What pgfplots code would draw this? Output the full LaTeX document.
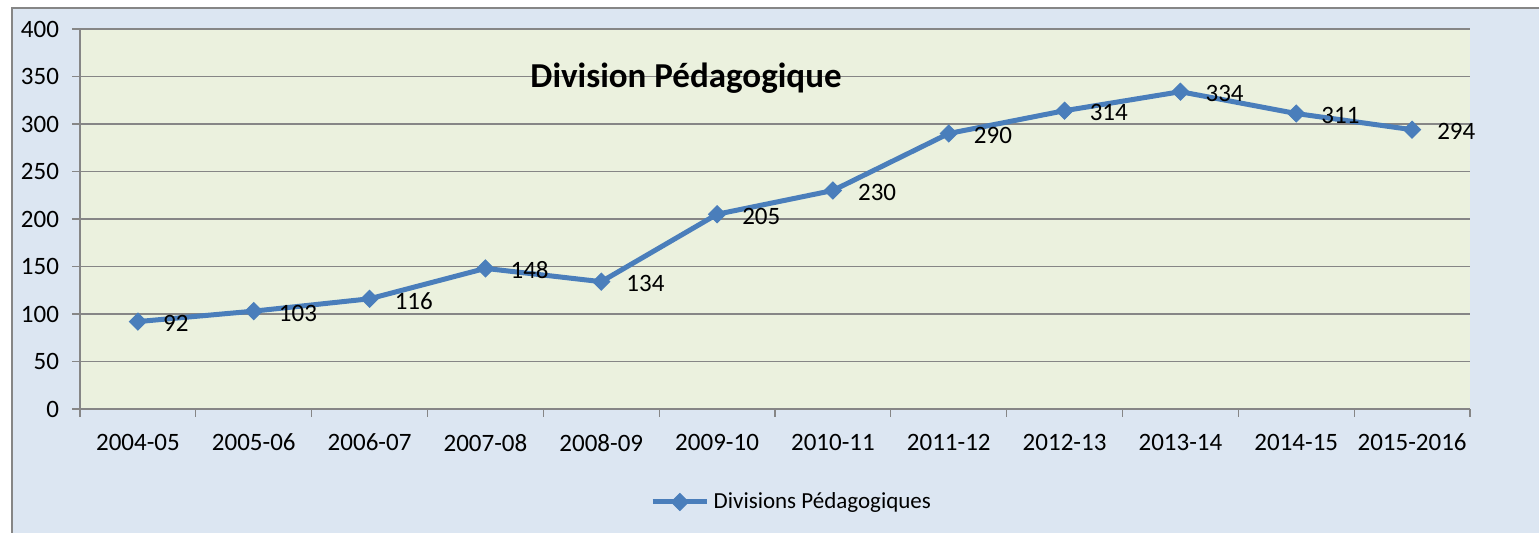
\documentclass[border=0pt]{standalone}
\usepackage{pgfplots}
\pgfplotsset{compat=1.18}
\usepackage{fontspec}
\setmainfont{Carlito}
\definecolor{outerbg}{HTML}{DCE6F2}
\definecolor{plotbg}{HTML}{EBF1DE}
\definecolor{series}{HTML}{4A7EBB}
\definecolor{gridc}{HTML}{868686}
\begin{document}
\begin{tikzpicture}[x=1pt,y=1pt]
\path[use as bounding box] (0,0) rectangle (769.5,266.5);
\fill[white] (0,0) rectangle (769.5,266.5);
\fill[outerbg] (6,0) rectangle (769.5,262.5);
\draw[gridc,line width=0.6pt] (6,0) -- (6,262.5) -- (769.5,262.5);
\begin{axis}[
  at={(40pt,62pt)}, anchor=south west,
  scale only axis, width=695pt, height=190pt,
  xmin=-0.5, xmax=11.5, ymin=0, ymax=400,
  axis x line*=bottom, axis y line*=left,
  axis line style={draw=gridc, line width=0.6pt, -},
  axis background/.style={fill=plotbg},
  xtick={0,...,11},
  xticklabels={2004-05,2005-06,2006-07,2007-08,2008-09,2009-10,2010-11,2011-12,2012-13,2013-14,2014-15,2015-2016},
  minor xtick={-0.5,0.5,...,11.5},
  ytick={0,50,...,400},
  ymajorgrids, major grid style={draw=gridc, line width=0.6pt},
  tick align=outside,
  major x tick style={draw=none},
  minor x tick style={draw=gridc, line width=0.6pt},
  major y tick style={draw=gridc, line width=0.6pt},
  major tick length=4pt, minor tick length=4pt,
  tick label style={font=\fontsize{12.5}{14}\selectfont, text=black},
  /pgf/number format/assume math mode=true,
  xticklabel style={yshift=-5pt},
  yticklabel style={xshift=-3pt},
  legend style={at={(0.5126,-0.2447)}, anchor=center, draw=none, fill=none,
    font=\fontsize{11.5}{13}\selectfont, inner sep=0pt},
  legend image code/.code={\draw[mark repeat=2,mark phase=2,#1] plot coordinates {(0cm,0cm) (0.48cm,0cm) (0.96cm,0cm)};},
  clip=false,
]
\addplot[color=series, line width=2.5pt, mark=square*, mark size=3pt,
  mark options={rotate=45, solid, line width=0.5pt},
  nodes near coords, point meta=explicit symbolic,
  every node near coord/.style={anchor=west, xshift=9pt, yshift=-1pt, text=black, font=\fontsize{12.5}{14}\selectfont}]
  coordinates {
  (0,92) [92]
  (1,103) [103]
  (2,116) [116]
  (3,148) [148]
  (4,134) [134]
  (5,205) [205]
  (6,230) [230]
  (7,290) [290]
  (8,314) [314]
  (9,334) [334]
  (10,311) [311]
  (11,294) [294]
  };
\addlegendentry{Divisions Pédagogiques}
\end{axis}
\node[font=\fontsize{17.5}{20}\selectfont\bfseries] at (343,227.5) {Division Pédagogique};
\end{tikzpicture}
\end{document}
